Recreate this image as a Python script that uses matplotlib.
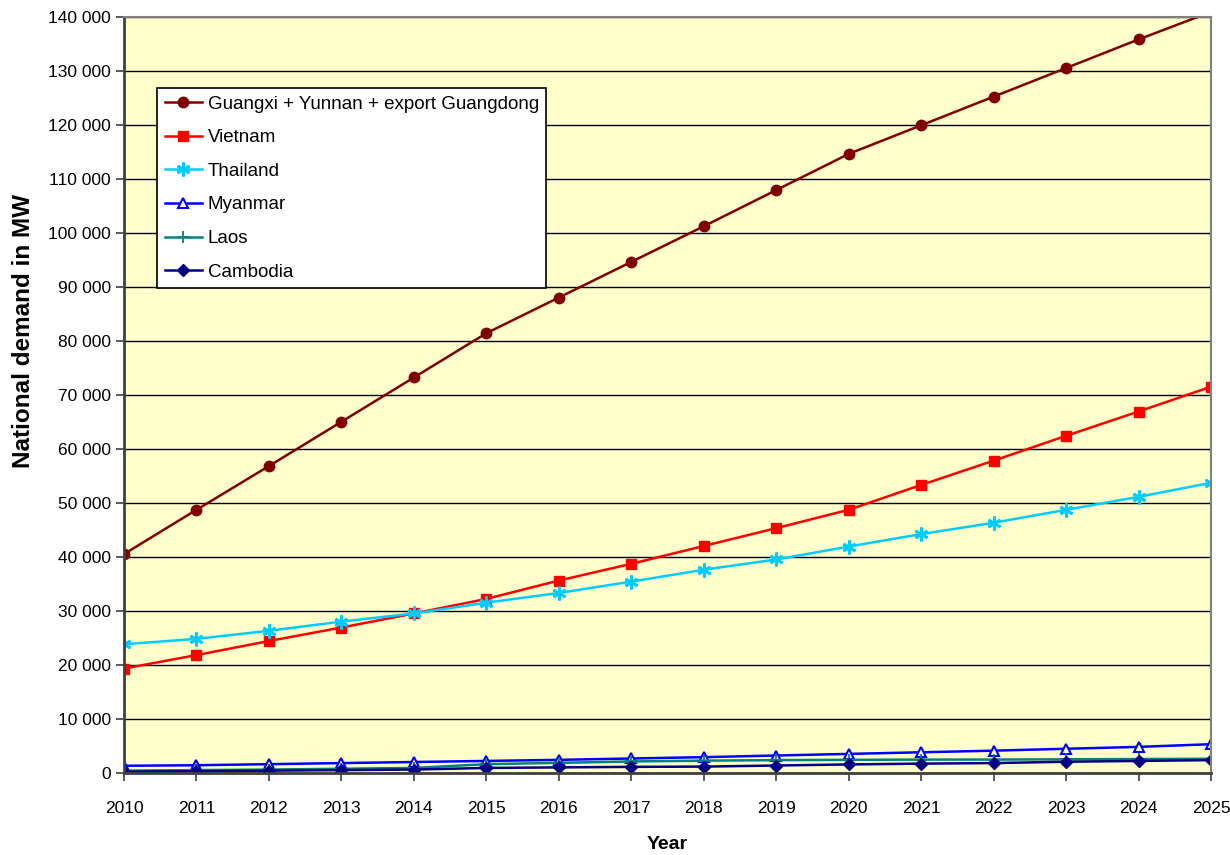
import matplotlib
matplotlib.use("Agg")
import matplotlib.pyplot as plt
from matplotlib.ticker import FuncFormatter, MultipleLocator

plt.rcParams["font.family"] = ["Liberation Sans", "DejaVu Sans"]

years = list(range(2010, 2026))

guangxi = [40600, 48800, 56900, 65100, 73300, 81500, 88100, 94700,
           101300, 108000, 114700, 120000, 125300, 130600, 135900, 141000]
vietnam = [19400, 21900, 24500, 27000, 29600, 32300, 35700, 38800,
           42100, 45400, 48800, 53400, 57900, 62500, 67000, 71600]
thailand = [23900, 24900, 26400, 28100, 29600, 31600, 33400, 35500,
            37700, 39600, 42000, 44300, 46400, 48800, 51200, 53800]
myanmar = [1400, 1500, 1700, 1900, 2100, 2300, 2500, 2750,
           3000, 3300, 3600, 3900, 4200, 4550, 4900, 5400]
laos = [500, 600, 700, 850, 1000, 1700, 1950, 2200,
        2350, 2450, 2500, 2550, 2550, 2600, 2650, 2700]
cambodia = [300, 400, 500, 600, 700, 1000, 1100, 1200,
            1250, 1450, 1650, 1800, 1900, 2150, 2300, 2450]

series = [
    ("Guangxi + Yunnan + export Guangdong", guangxi, "#800000", "o", {"markersize": 7.5}),
    ("Vietnam", vietnam, "#FF0000", "s", {}),
    ("Thailand", thailand, "#00CCFF", (6, 2, 0), {"markersize": 10, "markeredgewidth": 2}),
    ("Myanmar", myanmar, "#0000FF", "^", {"markerfacecolor": "white", "markeredgewidth": 1.5}),
    ("Laos", laos, "#008080", "+", {"markersize": 8, "markeredgewidth": 1.3}),
    ("Cambodia", cambodia, "#000080", "D", {"markersize": 6.5}),
]

fig = plt.figure(figsize=(12.3, 8.55), dpi=100)
ax = fig.add_axes([0.1008, 0.0955, 0.8838, 0.8843])
ax.set_facecolor("#FFFFCC")

for name, vals, color, marker, extra in series:
    kw = dict(color=color, marker=marker, markersize=7, linewidth=1.8,
              markeredgecolor=color, label=name)
    kw.update(extra)
    ax.plot(years, vals, **kw)

ax.set_xlim(2010, 2025)
ax.set_ylim(0, 140000)
ax.xaxis.set_major_locator(MultipleLocator(1))
ax.yaxis.set_major_locator(MultipleLocator(10000))
ax.yaxis.set_major_formatter(FuncFormatter(lambda v, p: "{:,.0f}".format(v).replace(",", " ")))
ax.grid(axis="y", color="black", linewidth=1.0)
ax.set_axisbelow(True)

ax.tick_params(axis="both", labelsize=12.5, direction="out", length=6, width=1.2, color="#404040")
ax.tick_params(axis="x", pad=14)

for side in ["left", "bottom"]:
    ax.spines[side].set_color("#404040")
    ax.spines[side].set_linewidth(2)
for side in ["top", "right"]:
    ax.spines[side].set_color("#808080")
    ax.spines[side].set_linewidth(1.5)

ax.set_xlabel("Year", fontsize=14, fontweight="bold", labelpad=14)
ax.set_ylabel("National demand in MW", fontsize=17.5, fontweight="bold")
ax.yaxis.set_label_coords(-0.082, 0.585)

leg = ax.legend(loc="upper left", bbox_to_anchor=(0.0304, 0.9065), borderaxespad=0,
                fontsize=13.5, frameon=True, fancybox=False, handlelength=2.0,
                handletextpad=0.3, labelspacing=0.88, borderpad=0.4)
leg.get_frame().set_edgecolor("black")
leg.get_frame().set_linewidth(1.2)
leg.get_frame().set_facecolor("white")
leg.get_frame().set_alpha(1)

fig.savefig("out.png", dpi=100)
